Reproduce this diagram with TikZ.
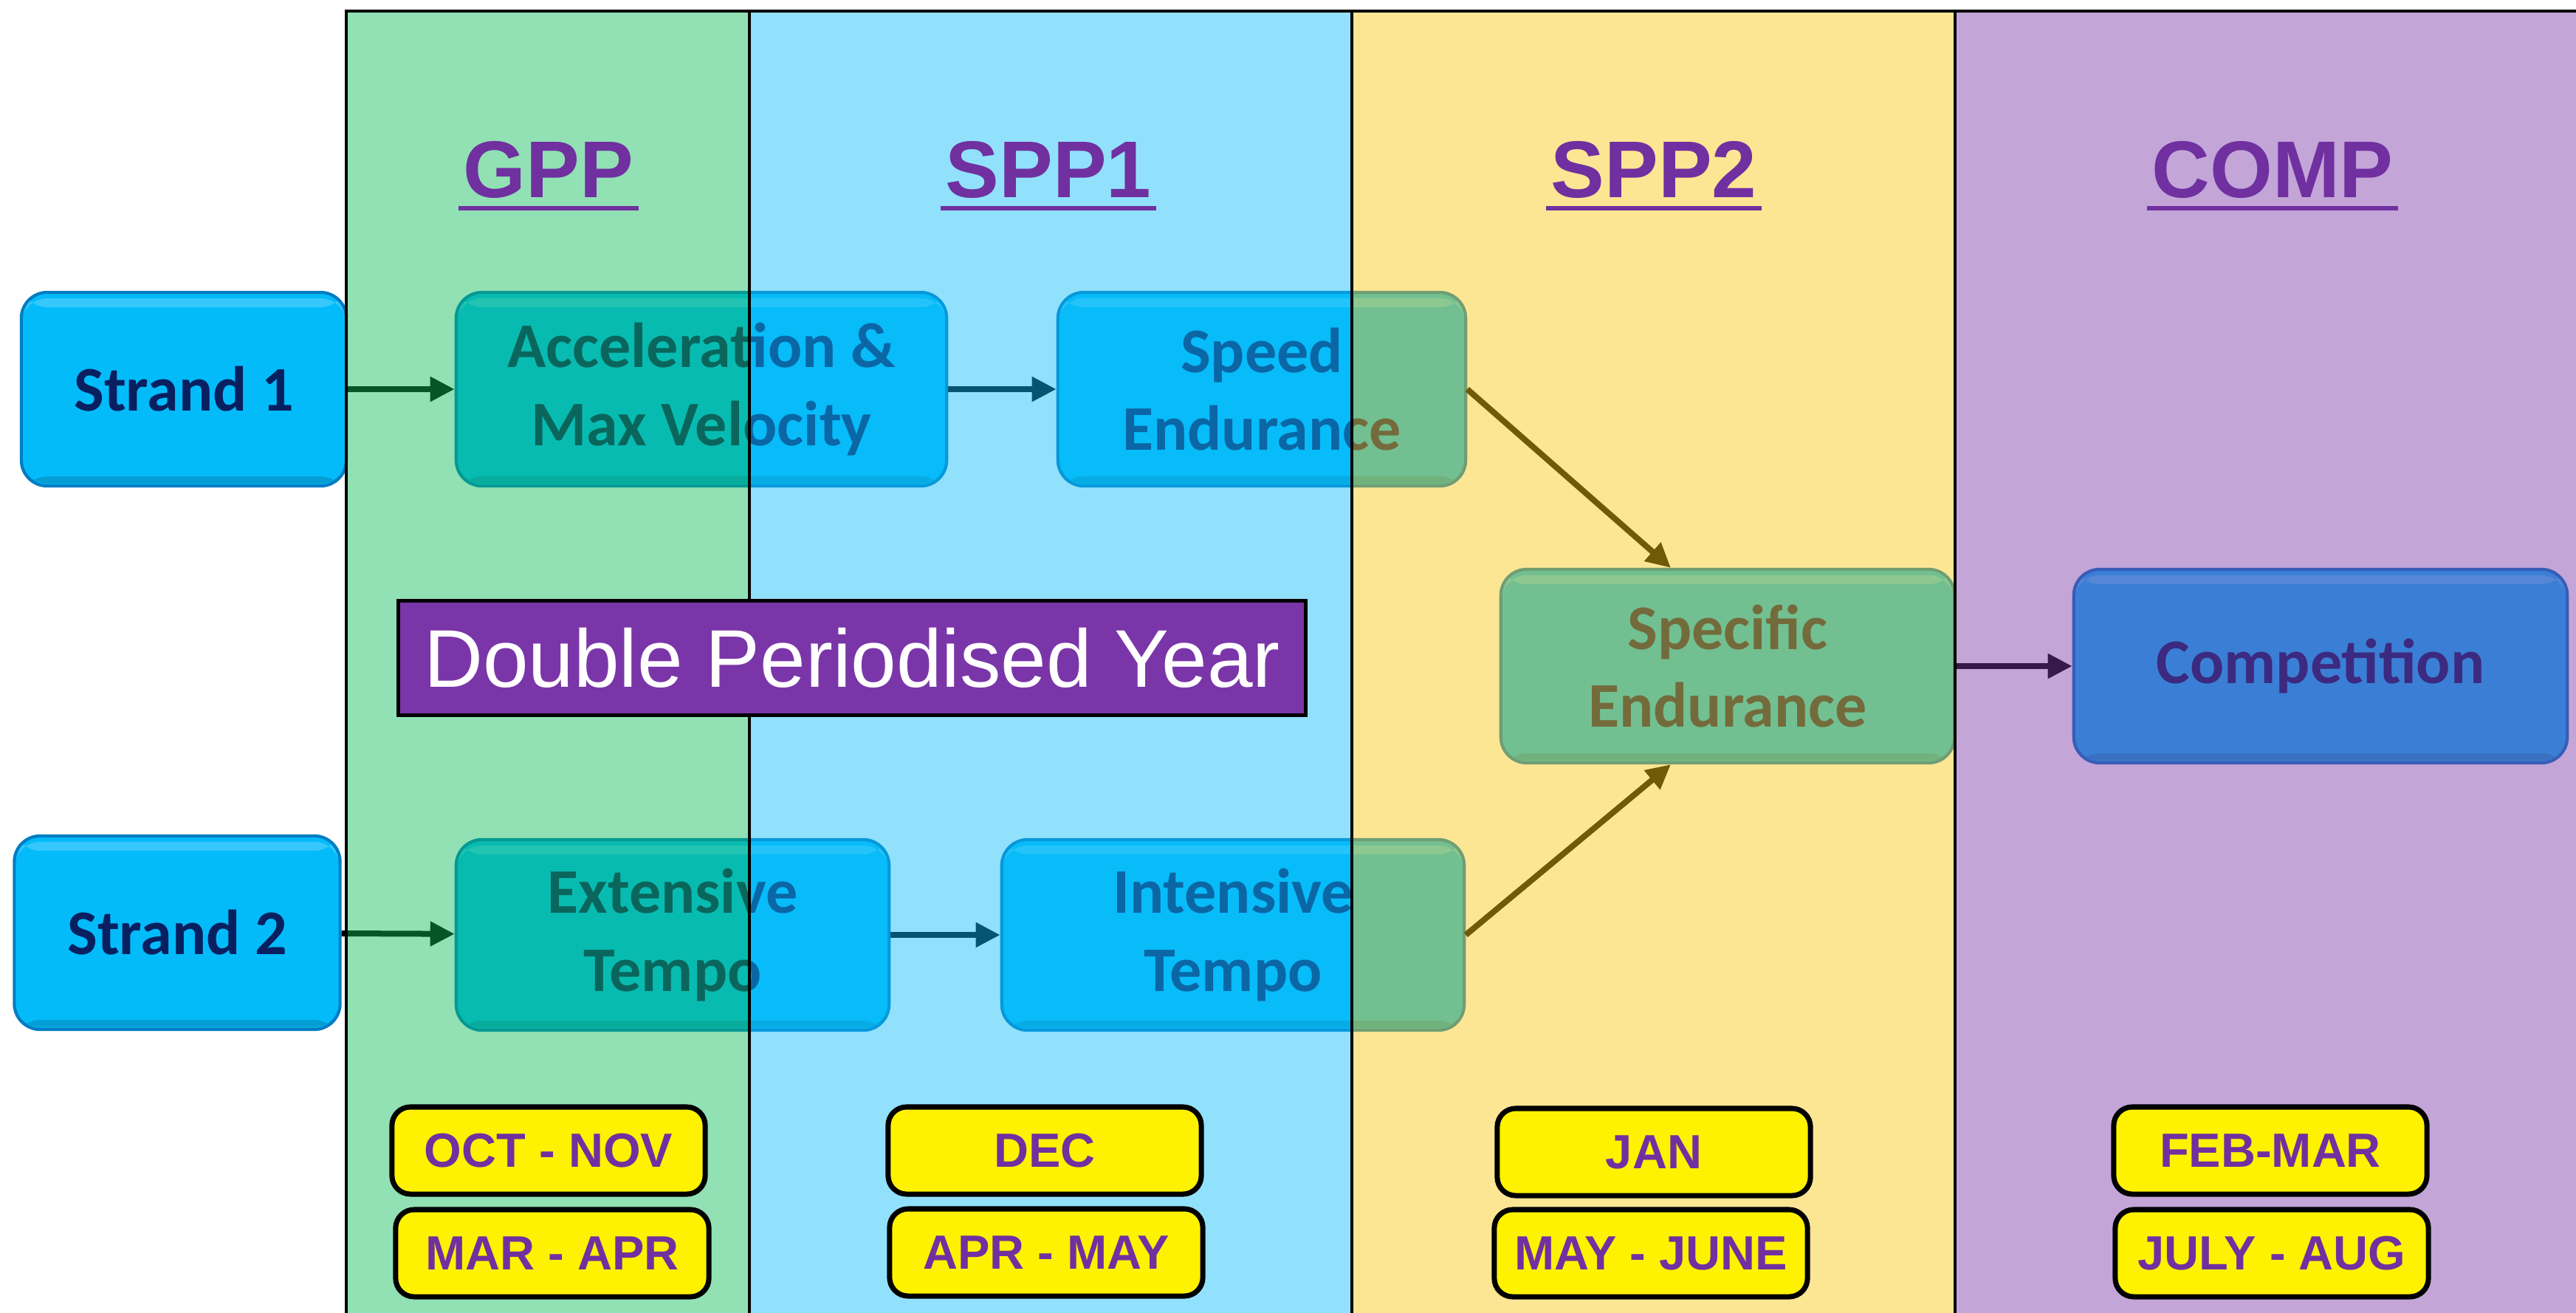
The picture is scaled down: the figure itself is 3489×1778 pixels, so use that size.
\documentclass[tikz,border=0pt]{standalone}
\usepackage{fontspec}
\setmainfont{Liberation Sans}
\newfontfamily\calibri{Carlito}
\usetikzlibrary{arrows.meta}
\definecolor{boxcyan}{RGB}{4,187,250}
\definecolor{boxedge}{RGB}{0,125,195}
\definecolor{boxtext}{RGB}{8,32,96}
\definecolor{gppcol}{RGB}{13,189,89}
\definecolor{sppacol}{RGB}{15,189,249}
\definecolor{sppbcol}{RGB}{249,200,18}
\definecolor{compcol}{RGB}{124,56,169}
\definecolor{titlepurple}{RGB}{112,48,160}
\definecolor{bannerpurple}{RGB}{122,54,168}

\begin{document}
\begin{tikzpicture}[x=0.01cm,y=-0.01cm,
    phase box/.style={rectangle, rounded corners=0.35cm, fill=boxcyan, draw=boxedge, line width=1.2pt,
      text=boxtext, font=\calibri\bfseries\fontsize{24.5}{30}\selectfont, align=center,
      minimum height=2.62cm, inner sep=0pt,
      path picture={
        \fill[white, fill opacity=0.2] ([yshift=-0.08cm]path picture bounding box.north west) rectangle ([yshift=-0.2cm]path picture bounding box.north east);
        \fill[black, fill opacity=0.15] ([yshift=0.03cm]path picture bounding box.south west) rectangle ([yshift=0.13cm]path picture bounding box.south east);}},
    month box/.style={rectangle, rounded corners=0.25cm, fill=yellow, draw=black, line width=2pt,
      text=titlepurple, font=\bfseries\fontsize{18.5}{22}\selectfont,
      minimum width=4.24cm, minimum height=1.18cm, inner sep=0pt},
    phase title/.style={text=titlepurple, font=\bfseries\fontsize{31}{37}\selectfont, anchor=base, inner sep=0pt},
    flow/.style={draw=black, line width=0.08cm, -{Triangle[length=0.33cm,width=0.32cm]}},
    phase fill/.style={fill opacity=0.45}]
    \useasboundingbox (0,0) rectangle (3489,1778);
    \fill[white] (0,0) rectangle (3489,1778);

    % training blocks
    \node[phase box, minimum width=4.4cm] (s1) at (249,527) {Strand 1};
    \node[phase box, minimum width=4.41cm] (s2) at (240,1263) {Strand 2};
    \node[phase box, minimum width=6.64cm] (acc) at (950,527) {Acceleration \&\\Max Velocity};
    \node[phase box, minimum width=5.52cm] (se) at (1709,527) {Speed\\Endurance};
    \node[phase box, minimum width=5.86cm, minimum height=2.58cm] (et) at (911,1266) {Extensive\\Tempo};
    \node[phase box, minimum width=6.26cm, minimum height=2.58cm] (it) at (1670,1266) {Intensive\\Tempo};
    \node[phase box, minimum width=6.14cm] (spe) at (2340,902) {Specific\\Endurance};
    \node[phase box, minimum width=6.68cm] (comp) at (3143,902) {Competition};

    \path[every edge/.style={flow}]
    (s1) edge (acc)
    (acc) edge (se)
    (s2) edge (et)
    (et) edge (it)
    (se.east) edge ([xshift=-0.77cm]spe.north)
    (it.east) edge ([xshift=-0.77cm]spe.south)
    (spe) edge (comp);

    % phase columns
    \fill[gppcol, phase fill] (469,15) rectangle (1015,1778);
    \fill[sppacol, phase fill] (1015,15) rectangle (1831,1778);
    \fill[sppbcol, phase fill] (1831,15) rectangle (2648,1778);
    \fill[compcol, phase fill] (2648,15) rectangle (3489,1778);
    \draw[line width=1.4pt] (469,1778) -- (469,15) -- (3489,15);
    \draw[line width=1.4pt] (1015,15) -- (1015,1778);
    \draw[line width=1.4pt] (1831,15) -- (1831,1778);
    \draw[line width=1.4pt] (2648,15) -- (2648,1778);

    \node[phase title] (gpp) at (743,267) {GPP};
    \node[phase title] (spp1) at (1420,267) {SPP1};
    \node[phase title] (spp2) at (2240,267) {SPP2};
    \node[phase title] (cmp) at (3078,267) {COMP};
    \draw[titlepurple, line width=0.06cm] ([xshift=-0.06cm,yshift=-0.15cm]gpp.base west) -- ([xshift=0.06cm,yshift=-0.15cm]gpp.base east);
    \draw[titlepurple, line width=0.06cm] ([xshift=-0.06cm,yshift=-0.15cm]spp1.base west) -- ([xshift=0.06cm,yshift=-0.15cm]spp1.base east);
    \draw[titlepurple, line width=0.06cm] ([xshift=-0.06cm,yshift=-0.15cm]spp2.base west) -- ([xshift=0.06cm,yshift=-0.15cm]spp2.base east);
    \draw[titlepurple, line width=0.06cm] ([xshift=-0.06cm,yshift=-0.15cm]cmp.base west) -- ([xshift=0.06cm,yshift=-0.15cm]cmp.base east);

    \node[fill=bannerpurple, draw=black, line width=1.4pt, text=white, font=\fontsize{31.5}{38}\selectfont,
      minimum width=12.28cm, minimum height=1.55cm, inner sep=0pt] (dpy) at (1154,891) {Double Periodised Year};

    % months
    \node[month box] (m1) at (743,1558) {OCT - NOV};
    \node[month box] (m2) at (748,1697) {MAR - APR};
    \node[month box] (m3) at (1415,1558) {DEC};
    \node[month box] (m4) at (1417,1696) {APR - MAY};
    \node[month box] (m5) at (2240,1560) {JAN};
    \node[month box] (m6) at (2236,1697) {MAY - JUNE};
    \node[month box] (m7) at (3075,1558) {FEB-MAR};
    \node[month box] (m8) at (3077,1697) {JULY - AUG};
  \end{tikzpicture}
\end{document}
